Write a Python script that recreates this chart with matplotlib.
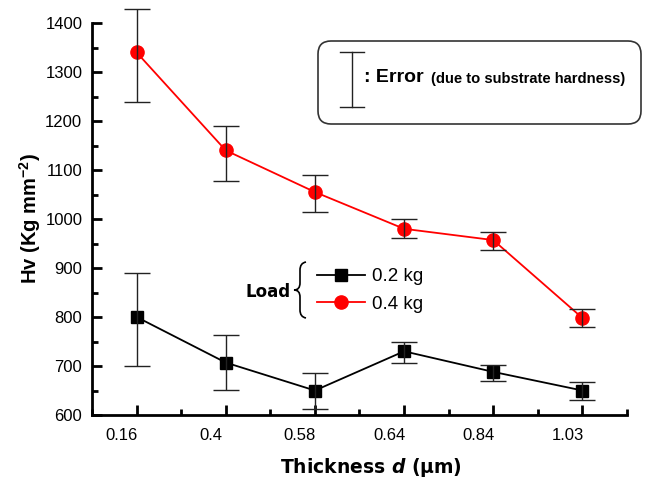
import numpy as np
import matplotlib
matplotlib.use('Agg')
import matplotlib.pyplot as plt
from matplotlib.lines import Line2D
from matplotlib.patches import FancyBboxPatch, PathPatch
from matplotlib.path import Path
from matplotlib.ticker import MultipleLocator
import matplotlib.transforms as mtransforms

plt.rcParams['font.family'] = ['Liberation Sans', 'DejaVu Sans']
plt.rcParams['mathtext.fontset'] = 'custom'
plt.rcParams['mathtext.rm'] = 'Liberation Sans:bold'
plt.rcParams['mathtext.it'] = 'DejaVu Sans:bold:italic'
plt.rcParams['mathtext.bf'] = 'DejaVu Sans:bold'

# data
thickness = ['0.16', '0.4', '0.58', '0.64', '0.84', '1.03']
load_labels = ['0.2 kg', '0.4 kg']
hv_02 = np.array([800, 707, 650, 730, 688, 650])
hv_02_low = np.array([700, 652, 612, 706, 669, 631])
hv_02_high = np.array([890, 764, 686, 749, 702, 668])
hv_04 = np.array([1340, 1140, 1055, 980, 957, 798])
hv_04_low = np.array([1239, 1077, 1014, 962, 937, 780])
hv_04_high = np.array([1428, 1190, 1090, 1001, 973, 816])

W, H = 646, 483
fig = plt.figure(figsize=(W / 100, H / 100), dpi=100)
ax = fig.add_axes([92 / W, 1 - 415 / H, (627 - 92) / W, (415 - 23) / H])

x = np.arange(len(thickness))

ax.plot(x, hv_02, color='black', lw=1.3, marker='s', ms=8.5, label=load_labels[0], zorder=3)
ax.plot(x, hv_04, color='#ff0000', lw=1.3, marker='o', ms=9.5, label=load_labels[1], zorder=3)
for vals, lo, hi in [(hv_02, hv_02_low, hv_02_high), (hv_04, hv_04_low, hv_04_high)]:
    eb = ax.errorbar(x, vals, yerr=[vals - lo, hi - vals], fmt='none', ecolor='#222222',
                     elinewidth=1, capsize=9.5, capthick=1, zorder=4)
    for art in eb.lines[1] + eb.lines[2]:
        art.set_clip_on(False)

ax.set_xlim(-0.5, len(thickness) - 0.5)
ax.set_ylim(600, 1400)
ax.set_xticks(x)
ax.set_xticklabels(thickness)
ax.xaxis.set_minor_locator(MultipleLocator(0.5))
ax.yaxis.set_major_locator(MultipleLocator(100))
ax.yaxis.set_minor_locator(MultipleLocator(50))

for s in ['top', 'right']:
    ax.spines[s].set_visible(False)
for s in ['left', 'bottom']:
    ax.spines[s].set_linewidth(2)

ax.tick_params(axis='both', which='major', direction='in', length=7, width=2, labelsize=12)
ax.tick_params(axis='both', which='minor', direction='in', length=4, width=2)
ax.tick_params(axis='y', which='major', pad=7)
ax.tick_params(axis='x', which='major', pad=9)

# tick labels sit a bit left of their ticks
shift = mtransforms.ScaledTranslation(-15 / 100, 0, fig.dpi_scale_trans)
for lab in ax.get_xticklabels():
    lab.set_transform(lab.get_transform() + shift)

ax.set_xlabel(r'Thickness $d$ (μm)', fontsize=13.5, fontweight='bold', family='DejaVu Sans')
ax.xaxis.set_label_coords(0.522, -0.105)
ax.set_ylabel(r'Hv (Kg mm$^{-2}$)', fontsize=14.5, fontweight='bold')
ax.yaxis.set_label_coords(-0.092, 0.5)

# legend
ax.legend(loc='upper left', bbox_to_anchor=(0.42, 0.375), frameon=False, fontsize=13.5,
          handlelength=2.56, handletextpad=0.37, labelspacing=0.55, borderpad=0,
          borderaxespad=0, numpoints=1)

T = fig.dpi_scale_trans
def px(xp, yp):
    return xp / 100, (H - yp) / 100

fig.text(*px(291, 292), 'Load', fontsize=12, fontweight='bold', family='DejaVu Sans',
         ha='right', va='center', transform=T)
verts = [px(306, 262), px(300, 263), px(300, 270),
         px(300, 283), px(300, 290), px(294, 290),
         px(300, 290), px(300, 297),
         px(300, 310), px(300, 317), px(306, 318)]
codes = [Path.MOVETO, Path.CURVE3, Path.CURVE3, Path.LINETO, Path.CURVE3, Path.CURVE3,
         Path.CURVE3, Path.CURVE3, Path.LINETO, Path.CURVE3, Path.CURVE3]
fig.add_artist(PathPatch(Path(verts, codes), transform=T, fill=False, lw=1.2, color='black'))

# error note box
bx0, by0 = px(318, 124)
box = FancyBboxPatch((bx0, by0), 323 / 100, 83 / 100, boxstyle='round,pad=0,rounding_size=0.13',
                     transform=T, fill=False, lw=1.2, ec='#333333')
fig.add_artist(box)
for seg in [((352, 52), (352, 107)), ((340, 52), (364, 52)), ((340, 107), (364, 107))]:
    (xa, ya), (xb, yb) = px(*seg[0]), px(*seg[1])
    fig.add_artist(Line2D([xa, xb], [ya, yb], transform=T, color='#222222', lw=1))
fig.text(*px(364, 78), ': Error', fontsize=14, fontweight='bold', ha='left', va='center',
         transform=T)
fig.text(*px(431, 79), '(due to substrate hardness)', fontsize=10.6, fontweight='bold',
         ha='left', va='center', transform=T)

fig.savefig('out.png', dpi=100)
